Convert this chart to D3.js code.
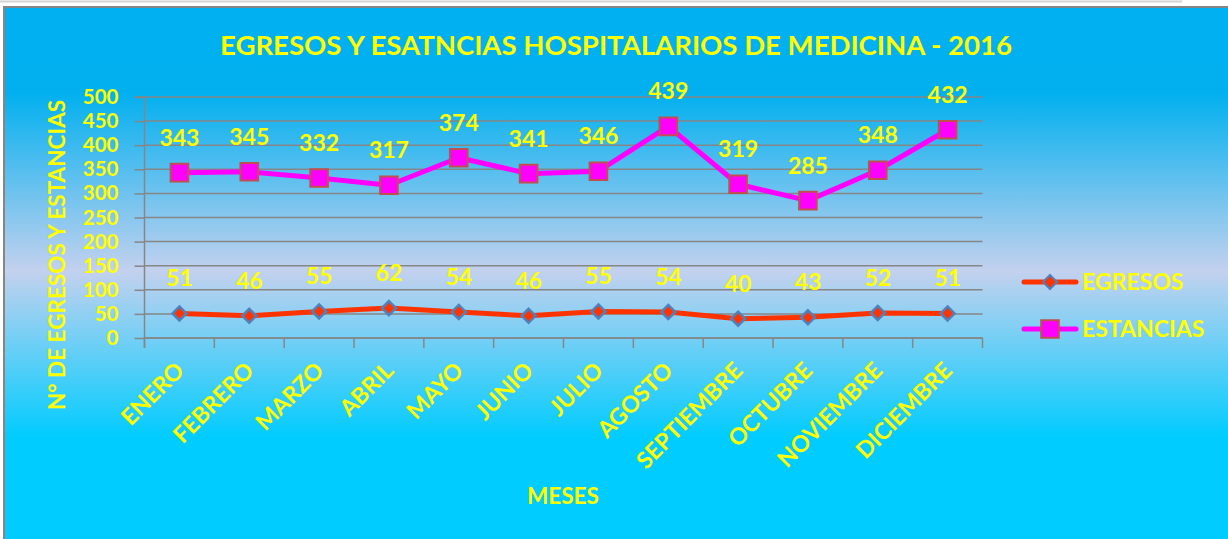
<!DOCTYPE html>
<html>
<head>
<meta charset="utf-8">
<script src="https://cdn.jsdelivr.net/npm/d3@7"></script>
<style>
  html, body { margin: 0; padding: 0; background: #fff; }
  svg { display: block; font-family: Lato, "Open Sans", sans-serif; font-weight: bold; }
</style>
</head>
<body>
<div id="chart"></div>
<script>
// chart data
const months = ["ENERO", "FEBRERO", "MARZO", "ABRIL", "MAYO", "JUNIO", "JULIO",
  "AGOSTO", "SEPTIEMBRE", "OCTUBRE", "NOVIEMBRE", "DICIEMBRE"];
const egresos = [51, 46, 55, 62, 54, 46, 55, 54, 40, 43, 52, 51];
const estancias = [343, 345, 332, 317, 374, 341, 346, 439, 319, 285, 348, 432];
const yTicks = [0, 50, 100, 150, 200, 250, 300, 350, 400, 450, 500];
const seriesNames = ["EGRESOS", "ESTANCIAS"];

const width = 1228, height = 539;
const yellow = "#ffff00";

const svg = d3.select("#chart").append("svg")
  .attr("width", width)
  .attr("height", height);

// background gradient
const defs = svg.append("defs");
const grad = defs.append("linearGradient")
  .attr("id", "bg").attr("x1", 0).attr("y1", 0).attr("x2", 0).attr("y2", 1);
grad.append("stop").attr("offset", "0%").attr("stop-color", "#00b0f0");
grad.append("stop").attr("offset", "16%").attr("stop-color", "#02b0ef");
grad.append("stop").attr("offset", "49%").attr("stop-color", "#c3d1ee");
grad.append("stop").attr("offset", "80%").attr("stop-color", "#00ccff");
grad.append("stop").attr("offset", "100%").attr("stop-color", "#00ccff");

// thin line above the chart box
svg.append("line")
  .attr("x1", 0).attr("x2", 1182).attr("y1", 1.5).attr("y2", 1.5)
  .attr("stroke", "#d4d4d4").attr("stroke-width", 2);

svg.append("rect")
  .attr("x", 4).attr("y", 7).attr("width", width + 10).attr("height", height)
  .attr("fill", "url(#bg)")
  .attr("stroke", "#868686").attr("stroke-width", 2);

// scales
const x = d3.scaleBand().domain(months).range([144.5, 982.5]);
const y = d3.scaleLinear().domain([0, 500]).range([338, 97]);
const cx = d => x(d) + x.bandwidth() / 2;

// gridlines
svg.append("g")
  .selectAll("line")
  .data(yTicks)
  .join("line")
  .attr("x1", x.range()[0]).attr("x2", x.range()[1])
  .attr("y1", d => y(d)).attr("y2", d => y(d))
  .attr("stroke", "#868686").attr("stroke-width", 1.5);

// y axis
const yAxis = svg.append("g")
  .attr("transform", `translate(${x.range()[0]},0)`)
  .call(d3.axisLeft(y).tickValues(yTicks).tickSize(10).tickPadding(16));
yAxis.select(".domain").attr("stroke", "#868686").attr("stroke-width", 1.5)
  .attr("d", `M-10,${y(500)}H0V${y(0) + 10}`);
yAxis.selectAll(".tick line").attr("stroke", "#868686").attr("stroke-width", 1.5);
yAxis.selectAll(".tick text")
  .attr("fill", yellow)
  .style("font-size", "20.5px")
  .style("font-family", "Lato, sans-serif")
  .style("font-weight", "bold");

// x axis: ticks between categories
const xAxis = svg.append("g")
  .attr("transform", `translate(0,${y(0)})`)
  .call(d3.axisBottom(x).tickSize(0).tickFormat(""));
xAxis.select(".domain").attr("stroke", "#868686").attr("stroke-width", 1.5)
  .attr("d", `M${x.range()[0]},0H${x.range()[1]}`);
xAxis.selectAll(".sep")
  .data(months.map(m => x(m)).concat([x.range()[1]]))
  .join("line")
  .attr("class", "sep")
  .attr("x1", d => d).attr("x2", d => d)
  .attr("y1", 0).attr("y2", 10)
  .attr("stroke", "#868686").attr("stroke-width", 1.5);

svg.append("g")
  .selectAll("text")
  .data(months)
  .join("text")
  .attr("transform", d => `translate(${cx(d) + 6},${y(0) + 34}) rotate(-45)`)
  .attr("text-anchor", "end")
  .attr("fill", yellow)
  .style("font-size", "23px")
  .text(d => d);

// lines
const line = d3.line().x((d, i) => cx(months[i])).y(d => y(d));

svg.append("path")
  .datum(egresos)
  .attr("d", line)
  .attr("fill", "none")
  .attr("stroke", "#ff3300")
  .attr("stroke-width", 5)
  .attr("stroke-linejoin", "round");

svg.append("path")
  .datum(estancias)
  .attr("d", line)
  .attr("fill", "none")
  .attr("stroke", "#ff00ff")
  .attr("stroke-width", 5)
  .attr("stroke-linejoin", "round");

// markers
const diamond = d3.symbol().type(d3.symbolDiamond2).size(125);
const square = d3.symbol().type(d3.symbolSquare).size(310);

svg.append("g")
  .selectAll("path")
  .data(egresos)
  .join("path")
  .attr("d", diamond)
  .attr("transform", (d, i) => `translate(${cx(months[i])},${y(d)})`)
  .attr("fill", "#ff3300")
  .attr("stroke", "#4f81bd")
  .attr("stroke-width", 2.5);

svg.append("g")
  .selectAll("rect")
  .data(estancias)
  .join("path")
  .attr("d", square)
  .attr("transform", (d, i) => `translate(${cx(months[i])},${y(d)})`)
  .attr("fill", "#ff00ff")
  .attr("stroke", "#c0504d")
  .attr("stroke-width", 2);

// data labels
[egresos, estancias].forEach(vals => {
  svg.append("g")
    .selectAll("text")
    .data(vals)
    .join("text")
    .attr("x", (d, i) => cx(months[i]))
    .attr("y", d => y(d) - 27)
    .attr("text-anchor", "middle")
    .attr("fill", yellow)
    .style("font-size", "23px")
    .text(d => d);
});

// title
svg.append("text")
  .attr("x", 616).attr("y", 55)
  .attr("text-anchor", "middle")
  .attr("fill", yellow)
  .attr("textLength", 792)
  .attr("lengthAdjust", "spacingAndGlyphs")
  .style("font-size", "26px")
  .text("EGRESOS Y ESATNCIAS HOSPITALARIOS DE MEDICINA - 2016");

// axis titles
svg.append("text")
  .attr("transform", "translate(65,255) rotate(-90)")
  .attr("text-anchor", "middle")
  .attr("fill", yellow)
  .style("font-size", "22.5px")
  .text("N° DE EGRESOS Y ESTANCIAS");

svg.append("text")
  .attr("x", 563).attr("y", 504)
  .attr("text-anchor", "middle")
  .attr("fill", yellow)
  .style("font-size", "22.5px")
  .text("MESES");

// legend
const legend = svg.append("g");
const legendItems = [
  { name: seriesNames[0], color: "#ff3300", shape: diamond, fill: "#ff3300", stroke: "#4f81bd", y: 282 },
  { name: seriesNames[1], color: "#ff00ff", shape: square, fill: "#ff00ff", stroke: "#c0504d", y: 329 }
];
legendItems.forEach(item => {
  legend.append("line")
    .attr("x1", 1024).attr("x2", 1076).attr("y1", item.y).attr("y2", item.y)
    .attr("stroke", item.color).attr("stroke-width", 5).attr("stroke-linecap", "round");
  legend.append("path")
    .attr("d", item.shape)
    .attr("transform", `translate(1050,${item.y})`)
    .attr("fill", item.fill).attr("stroke", item.stroke).attr("stroke-width", 2);
  legend.append("text")
    .attr("x", 1082).attr("y", item.y + 8)
    .attr("fill", yellow)
    .style("font-size", "23px")
    .text(item.name);
});
</script>
</body>
</html>
